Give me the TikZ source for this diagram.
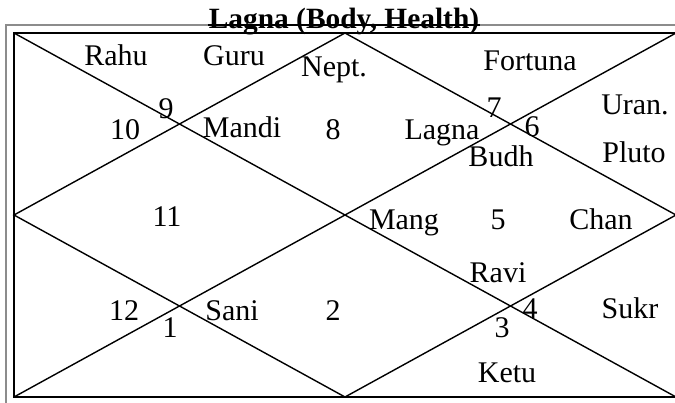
\documentclass[tikz,border=0pt]{standalone}
\usepackage{fontspec}
\setmainfont{Liberation Serif}
\usepackage{tikz}
\usetikzlibrary{positioning,calc}

\begin{document}
\begin{tikzpicture}[x=0.5pt, y=-0.5pt, every node/.style={font=\fontsize{15}{17}\selectfont, inner sep=0pt, anchor=base}]
\tikzstyle{frame}=[draw=black!45, line width=1pt]
\tikzstyle{chart}=[draw=black, line width=0.7pt]
\tikzstyle{lbl}=[anchor=base]
\useasboundingbox (0,0) rectangle (675,402);
% corners of the chart
\coordinate (tl) at (14,33);
\coordinate (tr) at (676,33);
\coordinate (bl) at (14,397);
\coordinate (br) at (676,397);
\coordinate (mt) at ($(tl)!0.5!(tr)$);
\coordinate (mb) at ($(bl)!0.5!(br)$);
\coordinate (ml) at ($(tl)!0.5!(bl)$);
\coordinate (mr) at ($(tr)!0.5!(br)$);
\coordinate (ftl) at (6,25);
\coordinate (ftr) at (677,25);
\coordinate (fbl) at (6,404);
% outer frame and title
\draw[frame] (fbl) -- (ftl) -- (ftr);
\node[lbl, font=\fontsize{14.7}{17}\selectfont\bfseries] (title) at (344,28) {Lagna (Body, Health)};
\draw[black, line width=0.8pt] (title.west |- ftl) -- (title.east |- ftl);
% chart lines
\draw[chart] (tr) -- (tl) -- (bl) -- (br);
\draw[chart] (tl) -- (br);
\draw[chart] (bl) -- (tr);
\draw[chart] (mt) -- (mr) -- (mb) -- (ml) -- cycle;
% houses and planets
\node[lbl] (rahu) at (116,65) {Rahu};
\node[lbl] (guru) at (234,65) {Guru};
\node[lbl] (nept) at (334,76) {Nept.};
\node[lbl] (fortuna) at (530,70) {Fortuna};
\node[lbl] (h9) at (166,118) {9};
\node[lbl] (h10) at (125,139) {10};
\node[lbl] (mandi) at (242,137) {Mandi};
\node[lbl] (h8) at (333,139) {8};
\node[lbl] (h7) at (494,117) {7};
\node[lbl] (lagna) at (442,139) {Lagna};
\node[lbl] (h6) at (532,136) {6};
\node[lbl] (uran) at (635,114) {Uran.};
\node[lbl] (budh) at (501,166) {Budh};
\node[lbl] (pluto) at (634,162) {Pluto};
\node[lbl] (h11) at (167,226) {11};
\node[lbl] (mang) at (404,229) {Mang};
\node[lbl] (h5) at (498,229) {5};
\node[lbl] (chan) at (601,229) {Chan};
\node[lbl] (ravi) at (498,282) {Ravi};
\node[lbl] (h12) at (124,320) {12};
\node[lbl] (h1) at (170,337) {1};
\node[lbl] (sani) at (232,320) {Sani};
\node[lbl] (h2) at (333,320) {2};
\node[lbl] (h4) at (530,318) {4};
\node[lbl] (h3) at (502,337) {3};
\node[lbl] (sukr) at (630,318) {Sukr};
\node[lbl] (ketu) at (507,382) {Ketu};
\end{tikzpicture}
\end{document}
